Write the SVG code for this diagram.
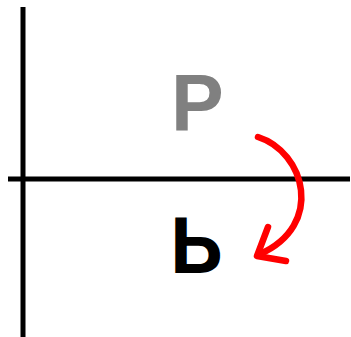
<svg xmlns="http://www.w3.org/2000/svg" width="351" height="337" viewBox="0 0 351 337">
<style>
.axis{stroke:#000;stroke-width:5;fill:none}
.arrow{stroke:#f00;stroke-width:6.5;fill:none;stroke-linecap:round;stroke-linejoin:round}
.lbl{font-family:"Liberation Sans",Arial,sans-serif;font-weight:bold;font-size:79px}
</style>
<rect width="351" height="337" fill="#fff"/>
<g id="axes">
<line class="axis" x1="23" y1="7" x2="23" y2="337"/>
<line class="axis" x1="8" y1="179" x2="350" y2="179"/>
</g>
<g id="original">
<text class="lbl" x="171" y="130" fill="#808080">P</text>
</g>
<g id="reflected">
<text class="lbl" x="170" y="0" fill="#000" transform="translate(0,218) scale(1,-1)">P</text>
</g>
<g id="connectors">
<path class="arrow" d="M258,137 C305,152 325,225 260,254"/>
<path class="arrow" d="M268,227 L257,256 L286,261"/>
</g>
</svg>
